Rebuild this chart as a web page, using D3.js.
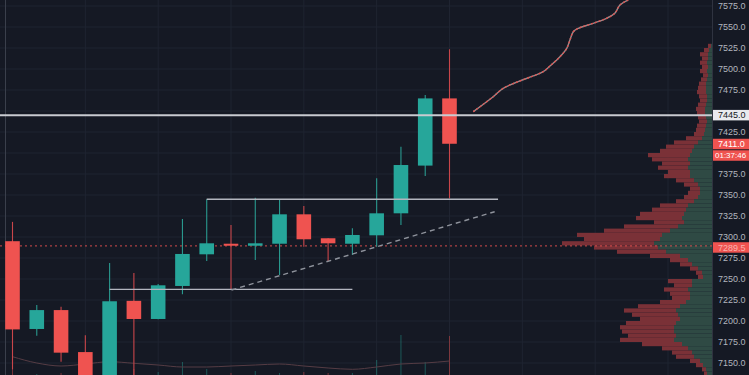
<!DOCTYPE html>
<html><head><meta charset="utf-8">
<script src="https://cdn.jsdelivr.net/npm/d3@7"></script>
<style>html,body{margin:0;padding:0;background:#151924;overflow:hidden}</style>
</head><body>
<svg id="c" width="749" height="375"></svg>
<script>
// ---------- DATA ----------
const candleIndex = [0,1,2,3,4,5,6,7,8,9,10,11,12,13,14,15,16,17,18];
const opens  = [7295,7190.5,7213,7163,7110,7224,7202.4,7241.7,7279.4,7292,7289.6,7292,7327,7298.5,7292,7302,7328.2,7385,7465];
const highs  = [7318,7219,7217,7183,7269,7257,7244,7321.4,7345,7314.3,7346.8,7345,7337,7298.5,7310.4,7369.9,7407.5,7469,7523.5];
const lows   = [7142.5,7182.5,7151.5,7090,7095,7135,7202,7231.8,7271.4,7236.9,7272.6,7254.8,7288.5,7271.4,7278.6,7288.5,7314.3,7372.6,7346];
const closes = [7190,7213,7162.3,7120,7223.5,7202.4,7242.5,7279.8,7292.5,7289.6,7292.5,7327,7297.3,7292.5,7302.4,7328.2,7385.7,7465,7411];
const volumes = [6,1,2,8,8,6,3,13,6,2,4,2,3,2,2,15,40,13,39];
const volumeMA = [18.3,12,9,11,13.3,11.7,10,8,8,9,10,11,9,7,5.7,8,11,12,14];

// projected path (bar index, price)
const projIdx   = [18.98,19.8,20.21,20.83,21.45,21.86,22.14,22.55,22.83,22.96,23.1,23.31,23.92,24.47,24.81,25.02,25.36];
const projPrice = [7449.2,7467,7477,7485,7491.7,7496.8,7503.6,7514.6,7524.6,7534.5,7544.4,7548.5,7554.4,7560.4,7566.3,7576.2,7582.1];

// volume profile rows (price bottom of 5-pt bin), total and up volume
const profilePrice = [7525,7520,7515,7510,7505,7500,7495,7490,7485,7480,7475,7470,7465,7460,7455,7450,7445,7440,7435,7430,7425,7420,7415,7410,7405,7400,7395,7390,7385,7380,7375,7370,7365,7360,7355,7350,7345,7340,7335,7330,7325,7320,7315,7310,7305,7300,7295,7290,7285,7280,7275,7270,7265,7260,7255,7250,7245,7240,7235,7230,7225,7220,7215,7210,7205,7200,7195,7190,7185,7180,7175,7170,7165,7160,7155,7150,7145,7140,7135];
const profileTotal = [4,8,12,10,12,10,12,9,11,13,14,15,13,12,14,16,15,14,13,15,16,18,26,38,46,52,64,60,50,54,44,48,36,28,22,24,28,36,52,60,72,76,58,88,108,135,128,150,118,95,62,42,32,22,16,14,44,38,48,42,40,52,74,88,80,72,86,92,90,84,92,70,50,40,36,22,16,10,8];
const profileUp    = [1,3,4,4,5,4,5,4,5,6,6,6,5,5,6,7,7,6,5,6,7,8,10,14,18,20,22,24,22,24,22,22,18,14,12,12,14,18,24,26,28,30,28,34,42,50,52,58,54,46,32,24,20,14,10,9,20,20,24,22,22,26,32,36,34,32,36,38,38,36,38,30,24,20,18,12,9,6,5];

const gridTicks  = [7150,7175,7200,7225,7250,7275,7300,7325,7350,7375,7400,7425,7450,7475,7500,7525,7550,7575];
const labelTicks = [7150,7175,7200,7225,7250,7275,7300,7325,7350,7375,7425,7475,7500,7525,7550,7575];
const gridBars = [3,6,9,12,15,18,21,24,27];

const lastPrice = 7411.0, timerText = "01:37:46";
const levelPrice = 7445.0;
const pocPrice = 7289.5;
const rangeTop = {from:8, to:20, price:7345};
const rangeBottom = {from:4, to:14, price:7237.7};
const trendLine = {i0:9.02, p0:7236.9, i1:19.86, p1:7330.1};

// ---------- SCALES ----------
const W = 749, H = 375, plotRight = 712;
const x = d3.scaleLinear().domain([0,18]).range([12.5,449.5]);
const y = d3.scaleLinear().domain([7150,7475]).range([363,90]);
const vy = d3.scaleLinear().domain([0,40]).range([375,335]);
const px = d3.scaleLinear().domain([0,150]).range([plotRight, plotRight-150]);

const UP = "#26a69a", DN = "#ef5350";
const FONT = "'Liberation Sans', Arial, sans-serif";
const svg = d3.select("#c");
svg.append("rect").attr("width",W).attr("height",H).attr("fill","#151924");
svg.append("defs").append("clipPath").attr("id","plot")
  .append("rect").attr("x",0).attr("y",0).attr("width",plotRight).attr("height",H);
const g = svg.append("g").attr("clip-path","url(#plot)");

// grid
g.selectAll(".hg").data(gridTicks).join("line")
  .attr("x1",0).attr("x2",plotRight).attr("y1",d=>y(d)).attr("y2",d=>y(d))
  .attr("stroke","#1f2431").attr("stroke-width",1);
g.selectAll(".vg").data(gridBars).join("line")
  .attr("x1",d=>x(d)).attr("x2",d=>x(d)).attr("y1",0).attr("y2",H)
  .attr("stroke","#1f2431").attr("stroke-width",1);
g.append("line").attr("x1",5.5).attr("x2",5.5).attr("y1",0).attr("y2",H)
  .attr("stroke","#3a3f4b").attr("stroke-width",1);

// volume profile
const binH = y(7150) - y(7155);
const prof = g.append("g");
profilePrice.forEach((p,i)=>{
  const tot = profileTotal[i], up = profileUp[i];
  prof.append("rect").attr("x",px(tot)).attr("y",y(p+5)).attr("width",px(up)-px(tot))
    .attr("height",binH).attr("fill","#7a3137");
  prof.append("rect").attr("x",px(up)).attr("y",y(p+5)).attr("width",px(0)-px(up))
    .attr("height",binH).attr("fill","#2f4a44");
});

// POC dotted line
g.append("line").attr("x1",0).attr("x2",plotRight).attr("y1",y(pocPrice)).attr("y2",y(pocPrice))
  .attr("stroke",DN).attr("stroke-opacity",0.7).attr("stroke-width",1.2).attr("stroke-dasharray","2,3");

// volume pane
g.selectAll(".vol").data(candleIndex).join("line")
  .attr("x1",i=>x(i)).attr("x2",i=>x(i)).attr("y1",i=>vy(volumes[i])).attr("y2",H)
  .attr("stroke",i=>closes[i]>=opens[i]?UP:DN).attr("stroke-opacity",0.45).attr("stroke-width",1);
g.append("path").datum(candleIndex)
  .attr("d",d3.line().x(i=>x(i)).y(i=>vy(volumeMA[i])).curve(d3.curveMonotoneX))
  .attr("fill","none").attr("stroke","#553c44").attr("stroke-width",1);

// candles
const bw = 14.6;
g.selectAll(".wick").data(candleIndex).join("line")
  .attr("x1",i=>x(i)).attr("x2",i=>x(i)).attr("y1",i=>y(highs[i])).attr("y2",i=>y(lows[i]))
  .attr("stroke",i=>closes[i]>=opens[i]?"#2a9a8f":"#c9464a").attr("stroke-width",1.1);
g.selectAll(".body").data(candleIndex).join("rect")
  .attr("x",i=>x(i)-bw/2).attr("width",bw)
  .attr("y",i=>y(Math.max(opens[i],closes[i])))
  .attr("height",i=>Math.max(2,Math.abs(y(opens[i])-y(closes[i]))))
  .attr("fill",i=>closes[i]>=opens[i]?UP:DN);

// annotations
g.append("line").attr("x1",x(rangeTop.from)).attr("x2",x(rangeTop.to))
  .attr("y1",y(rangeTop.price)).attr("y2",y(rangeTop.price))
  .attr("stroke","#b2b5be").attr("stroke-width",1.4);
g.append("line").attr("x1",x(rangeBottom.from)).attr("x2",x(rangeBottom.to))
  .attr("y1",y(rangeBottom.price)).attr("y2",y(rangeBottom.price))
  .attr("stroke","#b2b5be").attr("stroke-width",1.4);
g.append("line").attr("x1",x(trendLine.i0)).attr("x2",x(trendLine.i1))
  .attr("y1",y(trendLine.p0)).attr("y2",y(trendLine.p1))
  .attr("stroke","#8f939c").attr("stroke-width",1.4).attr("stroke-dasharray","5,4");

// projected path
const projLine = d3.line().x((d,i)=>x(projIdx[i])).y((d,i)=>y(projPrice[i])).curve(d3.curveCatmullRom);
g.append("path").datum(projIdx).attr("d",projLine).attr("fill","none")
  .attr("stroke","#9a8c8c").attr("stroke-width",1.4);
g.append("path").datum(projIdx).attr("d",projLine).attr("fill","none")
  .attr("stroke","#e0504f").attr("stroke-width",1.4).attr("stroke-dasharray","2,2");

// horizontal level
g.append("line").attr("x1",0).attr("x2",plotRight).attr("y1",y(levelPrice)).attr("y2",y(levelPrice))
  .attr("stroke","#c9cbd1").attr("stroke-width",2);

// right axis
svg.append("line").attr("x1",plotRight+0.5).attr("x2",plotRight+0.5).attr("y1",0).attr("y2",H)
  .attr("stroke","#2f3340").attr("stroke-width",1);
const ax = svg.append("g").attr("transform",`translate(${plotRight},0)`)
  .call(d3.axisRight(y).tickValues(labelTicks).tickSize(0).tickPadding(6).tickFormat(d3.format(".1f")));
ax.select(".domain").remove();
ax.selectAll("text").attr("fill","#b2b5be").style("font-family",FONT).style("font-size","9px");

function tag(top, txt, bg, fg, op, fs){
  const t = svg.append("g");
  t.append("rect").attr("x",plotRight+1).attr("y",top).attr("width",W-plotRight-1).attr("height",10.5).attr("fill",bg);
  t.append("text").attr("x",plotRight+(fs?3:6)).attr("y",top+5.25).attr("dy","0.34em").text(txt)
    .attr("fill",fg).attr("fill-opacity",op||1)
    .style("font-family",FONT).style("font-size",(fs||9)+"px");
}
tag(y(levelPrice)-5.3, d3.format(".1f")(levelPrice), "#e9eaee", "#131722");
tag(y(lastPrice)-5, d3.format(".1f")(lastPrice), DN, "#ffffff");
tag(y(lastPrice)+6.5, timerText, DN, "#ffffff", 1, 8);
tag(y(pocPrice)-3.6, d3.format(".1f")(pocPrice), DN, "#ffffff", 0.55);
</script>
</body></html>
